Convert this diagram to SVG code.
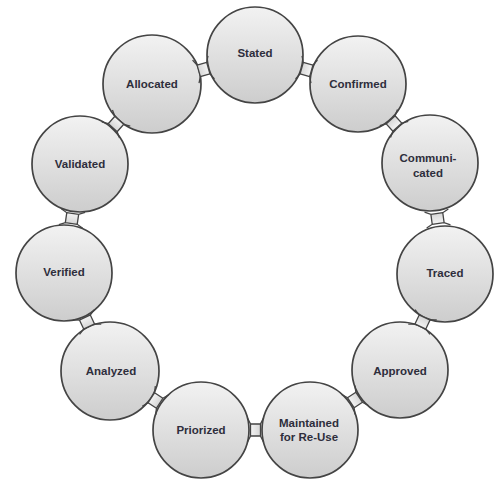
<svg xmlns="http://www.w3.org/2000/svg" width="494" height="481" viewBox="0 0 494 481">
<defs>
<linearGradient id="g" x1="0" y1="0" x2="0" y2="1">
<stop offset="0" stop-color="#f2f2f2"/>
<stop offset="1" stop-color="#cdcdcd"/>
</linearGradient>
<linearGradient id="cg" x1="0" y1="0" x2="1" y2="0">
<stop offset="0" stop-color="#d6d6d6"/>
<stop offset="1" stop-color="#f4f4f4"/>
</linearGradient>
<g id="conn">
<path d="M-5,-6 L5,-6 L5,6 L-5,6 Z" fill="url(#cg)" stroke="none"/>
<path d="M-8,-12 L-5,-6 L-5,6 L-8,12 M8,-12 L5,-6 L5,6 L8,12 M-5,-6 L5,-6 M-5,6 L5,6" fill="none" stroke="#444" stroke-width="1.3"/>
</g>
</defs>
<style>
.n circle{fill:url(#g);stroke:#444;stroke-width:1.7}
.n text{font-family:"Liberation Sans",Arial,sans-serif;font-weight:bold;font-size:11.5px;fill:#2e2e3c;text-anchor:middle}
</style>
<rect width="494" height="481" fill="#fff"/>
<g id="n-stated" class="n"><circle cx="255" cy="55" r="48"/><text x="255" y="57">Stated</text></g>
<g id="n-confirmed" class="n"><circle cx="358" cy="84" r="48"/><text x="358" y="88">Confirmed</text></g>
<g id="n-communicated" class="n"><circle cx="430" cy="163" r="48"/><text x="428" y="162">Communi-</text><text x="428" y="177">cated</text></g>
<g id="n-traced" class="n"><circle cx="445" cy="274" r="48"/><text x="445" y="277">Traced</text></g>
<g id="n-approved" class="n"><circle cx="400" cy="370" r="48"/><text x="400" y="375">Approved</text></g>
<g id="n-maintained" class="n"><circle cx="310" cy="430" r="48"/><text x="309" y="427">Maintained</text><text x="309" y="441">for Re-Use</text></g>
<g id="n-priorized" class="n"><circle cx="201" cy="430" r="48"/><text x="201" y="434">Priorized</text></g>
<g id="n-analyzed" class="n"><circle cx="110" cy="371" r="49"/><text x="111" y="375">Analyzed</text></g>
<g id="n-verified" class="n"><circle cx="64" cy="273" r="48"/><text x="64" y="276">Verified</text></g>
<g id="n-validated" class="n"><circle cx="80" cy="164" r="48"/><text x="80" y="168">Validated</text></g>
<g id="n-allocated" class="n"><circle cx="152" cy="84" r="49"/><text x="152" y="88">Allocated</text></g>
<g id="connectors">
<use href="#conn" transform="translate(306.5,69.5) rotate(15.7)"/>
<use href="#conn" transform="translate(394,123.5) rotate(47.7)"/>
<use href="#conn" transform="translate(437.5,218.5) rotate(82.3)"/>
<use href="#conn" transform="translate(422.5,322) rotate(115.1)"/>
<use href="#conn" transform="translate(355,400) rotate(146.3)"/>
<use href="#conn" transform="translate(255.5,430) rotate(180)"/>
<use href="#conn" transform="translate(155.5,400.5) rotate(213)"/>
<use href="#conn" transform="translate(87,322) rotate(244.9)"/>
<use href="#conn" transform="translate(72,218.5) rotate(278.4)"/>
<use href="#conn" transform="translate(116,124) rotate(312)"/>
<use href="#conn" transform="translate(203.5,69.5) rotate(344.3)"/>
</g>
</svg>
